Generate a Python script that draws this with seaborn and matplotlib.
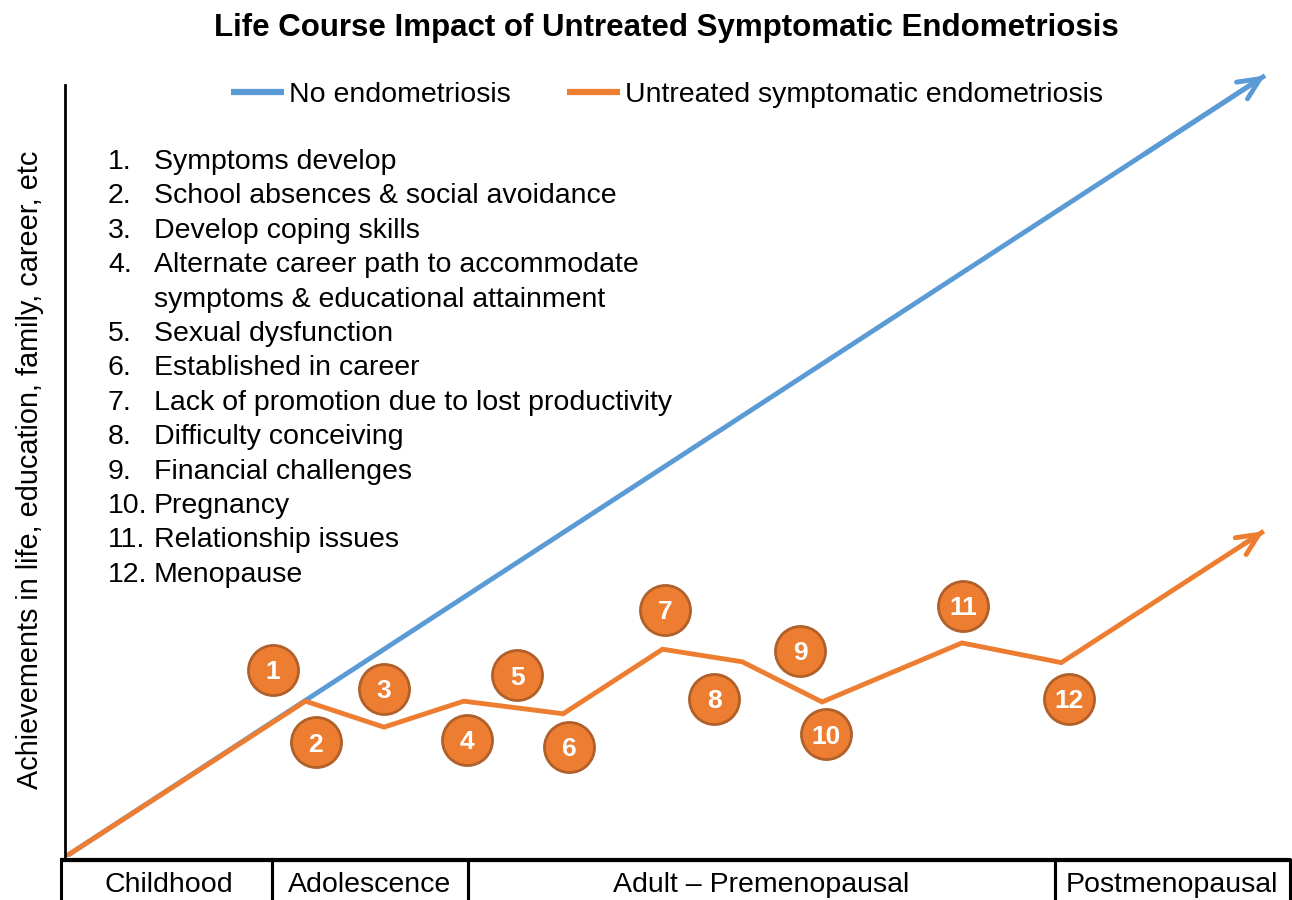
import matplotlib
matplotlib.use("Agg")
import matplotlib.pyplot as plt
import seaborn as sns
import numpy as np
from matplotlib.patches import Rectangle

# ---------------- data ----------------
title = "Life Course Impact of Untreated Symptomatic Endometriosis"
ylabel = "Achievements in life, education, family, career, etc"

no_endo_x = [0.0, 97.8]
no_endo_y = [0.0, 99.3]

endo_x = [0.0, 19.6, 26.0, 32.5, 40.6, 48.7, 55.2, 61.7, 73.1, 81.2, 97.7]
endo_y = [0.0, 19.8, 16.5, 19.8, 18.2, 26.4, 24.8, 19.7, 27.2, 24.7, 41.4]

event_nums = ["1", "2", "3", "4", "5", "6", "7", "8", "9", "10", "11", "12"]
event_x = [16.95, 20.45, 26.0, 32.75, 36.85, 41.1, 48.9, 52.9, 59.9, 62.0, 73.2, 81.85]
event_y = [23.8, 14.6, 21.35, 14.9, 23.1, 14.0, 31.4, 20.1, 26.2, 15.6, 31.9, 20.1]

event_text = [
    "Symptoms develop",
    "School absences & social avoidance",
    "Develop coping skills",
    "Alternate career path to accommodate\nsymptoms & educational attainment",
    "Sexual dysfunction",
    "Established in career",
    "Lack of promotion due to lost productivity",
    "Difficulty conceiving",
    "Financial challenges",
    "Pregnancy",
    "Relationship issues",
    "Menopause",
]

stages = ["Childhood", "Adolescence", "Adult \u2013 Premenopausal", "Postmenopausal"]
stage_edges = [0.0, 16.87, 32.84, 80.68, 99.8]

blue = "#5B9BD5"
orange = "#ED7D31"
orange_edge = "#B0602A"

# ---------------- style ----------------
sns.set_theme(style="white")
plt.rcParams["font.family"] = ["Liberation Sans", "DejaVu Sans"]
plt.rcParams["text.color"] = "black"

W, H = 1292, 900
fig = plt.figure(figsize=(W / 100, H / 100), dpi=100)

# main axes: px x 65..1292, y 857..70
ax = fig.add_axes([65 / W, 43 / H, 1227 / W, 787 / H])
ax.set_xlim(0, 100)
ax.set_ylim(0, 100)

lw = 3.5
sns.lineplot(x=no_endo_x, y=no_endo_y, color=blue, lw=lw, sort=False,
             label="No endometriosis", ax=ax, solid_capstyle="butt")
sns.lineplot(x=endo_x, y=endo_y, color=orange, lw=lw, sort=False,
             label="Untreated symptomatic endometriosis", ax=ax,
             solid_joinstyle="miter", solid_capstyle="butt")

# arrow heads
for xs, ys, c in [(no_endo_x, no_endo_y, blue), (endo_x, endo_y, orange)]:
    ax.annotate("", xy=(xs[-1], ys[-1]), xytext=(xs[-2] + (xs[-1] - xs[-2]) * 0.9,
                                                  ys[-2] + (ys[-1] - ys[-2]) * 0.9),
                arrowprops=dict(arrowstyle="->,head_length=1.3,head_width=0.6",
                                color=c, lw=lw, shrinkA=0, shrinkB=0))

# numbered circles
sns.scatterplot(x=event_x, y=event_y, s=1300, color=orange, edgecolor=orange_edge,
                linewidth=2, ax=ax, zorder=5, legend=False)
for n, x, y in zip(event_nums, event_x, event_y):
    ax.text(x, y, n, color="white", fontsize=19, fontweight="bold",
            ha="center", va="center_baseline", zorder=6)

# spines
for s in ["top", "right", "bottom"]:
    ax.spines[s].set_visible(False)
ax.spines["left"].set_color("black")
ax.spines["left"].set_linewidth(2)
ax.spines["left"].set_bounds(0, (857 - 85) / 7.87)
ax.set_xticks([])
ax.set_yticks([])
ax.set_xlabel("")
ax.set_ylabel("")

# legend
leg = ax.legend(loc="center", bbox_to_anchor=(667 / W, 1 - 95 / H),
                bbox_transform=fig.transFigure, ncol=2, frameon=False,
                fontsize=20.5, handlelength=1.86, handletextpad=0.15,
                columnspacing=2.0)
for line in leg.get_lines():
    line.set_linewidth(4.5)
for t in leg.get_texts():
    t.set_color("black")

# numbered list
y0 = 162
dy = 34.4
line_i = 0
for i, t in enumerate(event_text):
    parts = t.split("\n")
    fig.text(108 / W, 1 - (y0 + line_i * dy) / H, f"{i + 1}.", fontsize=20.5,
             ha="left", va="center")
    for p in parts:
        fig.text(154 / W, 1 - (y0 + line_i * dy) / H, p, fontsize=20.5,
                 ha="left", va="center")
        line_i += 1

# title and y label
fig.text(666 / W, 1 - 28 / H, title, fontsize=22.5, fontweight="bold",
         ha="center", va="center")
fig.text(30 / W, 1 - 470 / H, ylabel, fontsize=20.8, rotation=90,
         ha="center", va="center")

# stage strip
ax2 = fig.add_axes([60 / W, 0, 1232 / W, 43 / H])
ax2.set_xlim(-5 / 12.27, 1227 / 12.27)
ax2.set_ylim(0, 1)
ax2.axis("off")
for i, name in enumerate(stages):
    a, b = stage_edges[i], stage_edges[i + 1]
    left = a if i > 0 else -0.3
    ax2.add_patch(Rectangle((left, -0.2), b - left, 1.13,
                            fill=False, edgecolor="black", lw=2.2, clip_on=False))
    ax2.text((a + b) / 2, 0.36, name, fontsize=20.5, ha="center", va="center")
ax2.plot([-0.3, stage_edges[-1]], [0.93, 0.93], color="black", lw=3)

fig.savefig("out.png", dpi=100)
